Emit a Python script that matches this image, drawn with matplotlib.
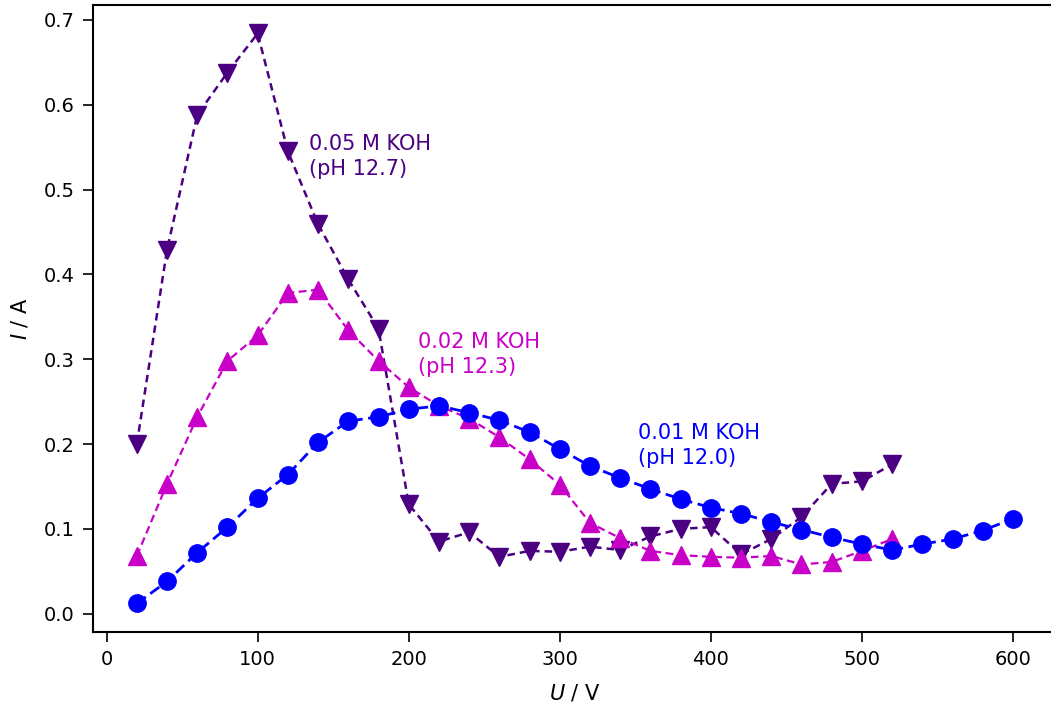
import numpy as np
import matplotlib
matplotlib.use("Agg")
import matplotlib.pyplot as plt

# U / V values for each series
u_001 = [20, 40, 60, 80, 100, 120, 140, 160, 180, 200, 220, 240, 260, 280, 300,
         320, 340, 360, 380, 400, 420, 440, 460, 480, 500, 520, 540, 560, 580, 600]
i_001 = [0.012, 0.038, 0.072, 0.102, 0.136, 0.164, 0.202, 0.227, 0.232, 0.241,
         0.245, 0.237, 0.228, 0.214, 0.194, 0.174, 0.160, 0.147, 0.135, 0.125,
         0.118, 0.108, 0.099, 0.090, 0.082, 0.075, 0.082, 0.088, 0.098, 0.112]

u_002 = [20, 40, 60, 80, 100, 120, 140, 160, 180, 200, 220, 240, 260,
         280, 300, 320, 340, 360, 380, 400, 420, 440, 460, 480, 500, 520]
i_002 = [0.068, 0.153, 0.232, 0.298, 0.328, 0.378, 0.382, 0.334, 0.298, 0.267,
         0.245, 0.230, 0.208, 0.182, 0.152, 0.107, 0.089, 0.074, 0.069, 0.067,
         0.066, 0.068, 0.058, 0.061, 0.074, 0.088]

u_005 = [20, 40, 60, 80, 100, 120, 140, 160, 180, 200, 220, 240, 260,
         280, 300, 320, 340, 360, 380, 400, 420, 440, 460, 480, 500, 520]
i_005 = [0.200, 0.429, 0.588, 0.638, 0.684, 0.545, 0.459, 0.394, 0.336, 0.129,
         0.085, 0.096, 0.067, 0.074, 0.073, 0.079, 0.075, 0.091, 0.100, 0.102,
         0.070, 0.088, 0.114, 0.153, 0.156, 0.176]

labels = ["0.01 M KOH\n(pH 12.0)", "0.02 M KOH\n(pH 12.3)", "0.05 M KOH\n(pH 12.7)"]
label_pos = [(352, 0.225), (206, 0.332), (134, 0.565)]

c_blue = "#0000ff"
c_mag = "#c800c8"
c_pur = "#4b0082"

fig = plt.figure(figsize=(10.51, 7.04), dpi=100)
ax = fig.add_axes([0.0885, 0.1023, 0.917, 0.8906])

ax.plot(u_005, i_005, linestyle="--", marker="v", color=c_pur, ms=13, lw=1.8,
        dashes=(3, 2), zorder=2)
ax.plot(u_002, i_002, linestyle="--", marker="^", color=c_mag, ms=13, lw=1.6,
        dashes=(3.5, 2), zorder=3)
ax.plot(u_001, i_001, linestyle="--", marker="o", color=c_blue, ms=12.5, lw=2.0,
        dashes=(4, 2), zorder=4)

for txt, (x, y), c in zip(labels, label_pos, [c_blue, c_mag, c_pur]):
    ax.text(x, y, txt, color=c, fontsize=15, va="top", ha="left",
            linespacing=1.3)

ax.set_xlabel("$U$ / V", fontsize=15, labelpad=10)
ax.set_ylabel("$I$ / A", fontsize=15, labelpad=10)
ax.tick_params(labelsize=14, length=7, width=1.2, pad=6)
for s in ax.spines.values():
    s.set_linewidth(1.5)

ax.set_xticks([0, 100, 200, 300, 400, 500, 600])
ax.set_yticks([0.0, 0.1, 0.2, 0.3, 0.4, 0.5, 0.6, 0.7])

fig.savefig("out.png", dpi=100)
